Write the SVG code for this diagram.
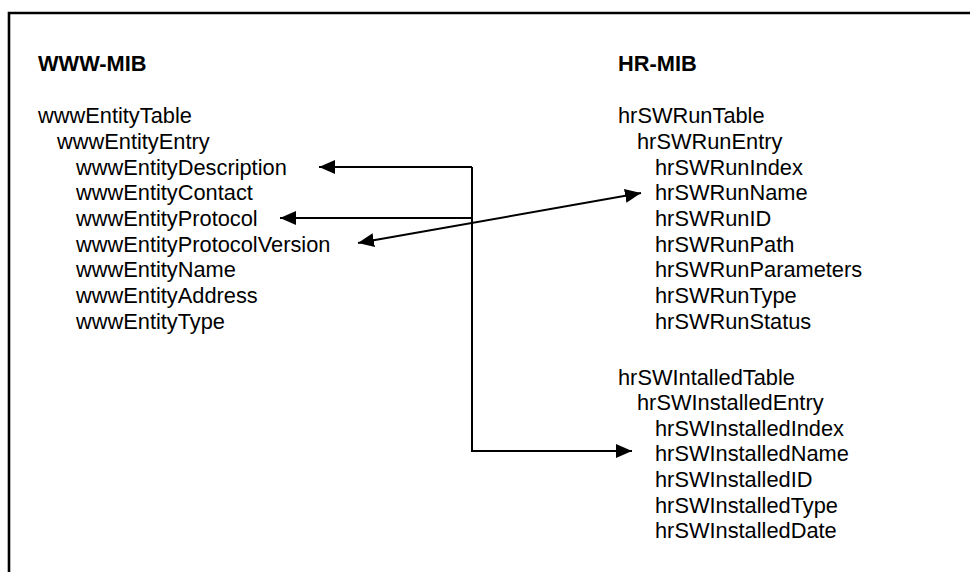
<svg xmlns="http://www.w3.org/2000/svg" width="970" height="572" viewBox="0 0 970 572">
  <style>
    .t { font-family: "Liberation Sans", Arial, sans-serif; font-size: 21.8px; fill: #000; }
    .h { font-weight: bold; }
    .ln { fill: none; stroke: #000; stroke-width: 2; }
    .frame { fill: none; stroke: #000; stroke-width: 2.6; }
  </style>
  <defs>
    <marker id="arrow" markerUnits="userSpaceOnUse" markerWidth="17" markerHeight="15" refX="16" refY="7" orient="auto-start-reverse">
      <path d="M0,0 L16,7 L0,14 Z" fill="#000"/>
    </marker>
  </defs>
  <rect width="970" height="572" fill="#fff"/>

  <!-- open frame: top and left edges -->
  <path class="frame" d="M9,572 L9,13 L970,13"/>

  <!-- WWW-MIB tree -->
  <g id="www-mib">
    <g id="wwwMibTitle"><text class="t h" x="38" y="71">WWW-MIB</text></g>
    <g id="wwwEntityTable"><text class="t" x="38" y="123">wwwEntityTable</text></g>
    <g id="wwwEntityEntry"><text class="t" x="57" y="149">wwwEntityEntry</text></g>
    <g id="wwwEntityDescription"><text class="t" x="76" y="175">wwwEntityDescription</text></g>
    <g id="wwwEntityContact"><text class="t" x="76" y="200">wwwEntityContact</text></g>
    <g id="wwwEntityProtocol"><text class="t" x="76" y="226">wwwEntityProtocol</text></g>
    <g id="wwwEntityProtocolVersion"><text class="t" x="76" y="252">wwwEntityProtocolVersion</text></g>
    <g id="wwwEntityName"><text class="t" x="76" y="277">wwwEntityName</text></g>
    <g id="wwwEntityAddress"><text class="t" x="76" y="303">wwwEntityAddress</text></g>
    <g id="wwwEntityType"><text class="t" x="76" y="329">wwwEntityType</text></g>
  </g>

  <!-- HR-MIB tree -->
  <g id="hr-mib">
    <g id="hrMibTitle"><text class="t h" x="618" y="71">HR-MIB</text></g>
    <g id="hrSWRunTable"><text class="t" x="618" y="123">hrSWRunTable</text></g>
    <g id="hrSWRunEntry"><text class="t" x="637" y="149">hrSWRunEntry</text></g>
    <g id="hrSWRunIndex"><text class="t" x="655" y="175">hrSWRunIndex</text></g>
    <g id="hrSWRunName"><text class="t" x="655" y="200">hrSWRunName</text></g>
    <g id="hrSWRunID"><text class="t" x="655" y="226">hrSWRunID</text></g>
    <g id="hrSWRunPath"><text class="t" x="655" y="252">hrSWRunPath</text></g>
    <g id="hrSWRunParameters"><text class="t" x="655" y="277">hrSWRunParameters</text></g>
    <g id="hrSWRunType"><text class="t" x="655" y="303">hrSWRunType</text></g>
    <g id="hrSWRunStatus"><text class="t" x="655" y="329">hrSWRunStatus</text></g>
    <g id="hrSWIntalledTable"><text class="t" x="618" y="385">hrSWIntalledTable</text></g>
    <g id="hrSWInstalledEntry"><text class="t" x="637" y="410">hrSWInstalledEntry</text></g>
    <g id="hrSWInstalledIndex"><text class="t" x="655" y="436">hrSWInstalledIndex</text></g>
    <g id="hrSWInstalledName"><text class="t" x="655" y="461">hrSWInstalledName</text></g>
    <g id="hrSWInstalledID"><text class="t" x="655" y="487">hrSWInstalledID</text></g>
    <g id="hrSWInstalledType"><text class="t" x="655" y="513">hrSWInstalledType</text></g>
    <g id="hrSWInstalledDate"><text class="t" x="655" y="538">hrSWInstalledDate</text></g>
  </g>

  <!-- connectors -->
  <g id="connectors">
    <path class="ln" d="M472,167 L472,451 L632,451" marker-end="url(#arrow)"/>
    <path class="ln" d="M472,167 L319,167" marker-end="url(#arrow)"/>
    <path class="ln" d="M472,218 L280,218" marker-end="url(#arrow)"/>
    <path class="ln" d="M358,243 L641,193" marker-start="url(#arrow)" marker-end="url(#arrow)"/>
  </g>
</svg>
